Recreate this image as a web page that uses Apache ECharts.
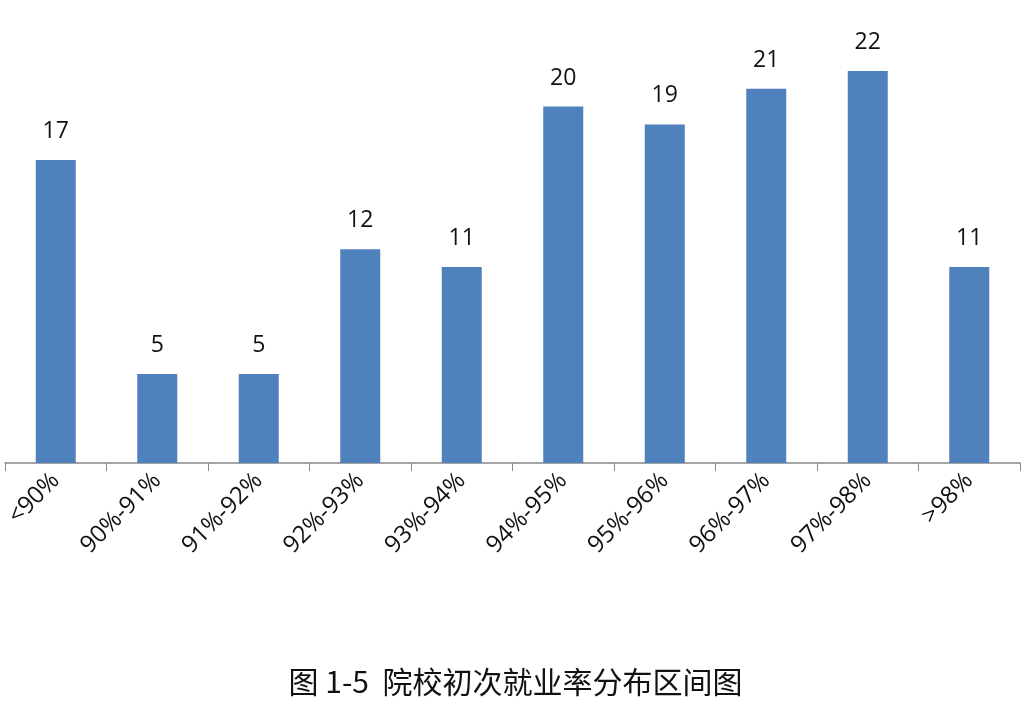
<!DOCTYPE html>
<html><head><meta charset="utf-8">
<script src="https://cdn.jsdelivr.net/npm/echarts@6/dist/echarts.min.js"></script>
<style>html,body{margin:0;padding:0;background:#fff}#c{width:1031px;height:705px}</style>
</head><body><div id="c"></div>
<script>
const categories = ['<90%','90%-91%','91%-92%','92%-93%','93%-94%','94%-95%','95%-96%','96%-97%','97%-98%','>98%'];
const values = [17,5,5,12,11,20,19,21,22,11];
const title = '图 1-5  院校初次就业率分布区间图';
const chart = echarts.init(document.getElementById('c'));
chart.setOption({
  animation:false,
  title:{text:title,left:'center',top:662,textStyle:{fontFamily:'Noto Sans CJK SC',fontSize:30,fontWeight:'normal',color:'#111'}},
  grid:{left:5,right:11,top:17.5,bottom:242},
  xAxis:{type:'category',data:categories,
    axisLine:{lineStyle:{color:'#888',width:1.5}},
    axisTick:{show:true,length:8,lineStyle:{color:'#888'}},
    axisLabel:{rotate:45,interval:0,fontSize:24,color:'#111',fontFamily:'Open Sans',margin:14}},
  yAxis:{type:'value',min:0,max:25,show:false,splitLine:{show:false}},
  series:[{type:'bar',data:values,barWidth:40,itemStyle:{color:'#4F81BD'},
    label:{show:true,position:'top',distance:17,fontSize:23,color:'#111',fontFamily:'Open Sans'}}]
});
</script></body></html>
